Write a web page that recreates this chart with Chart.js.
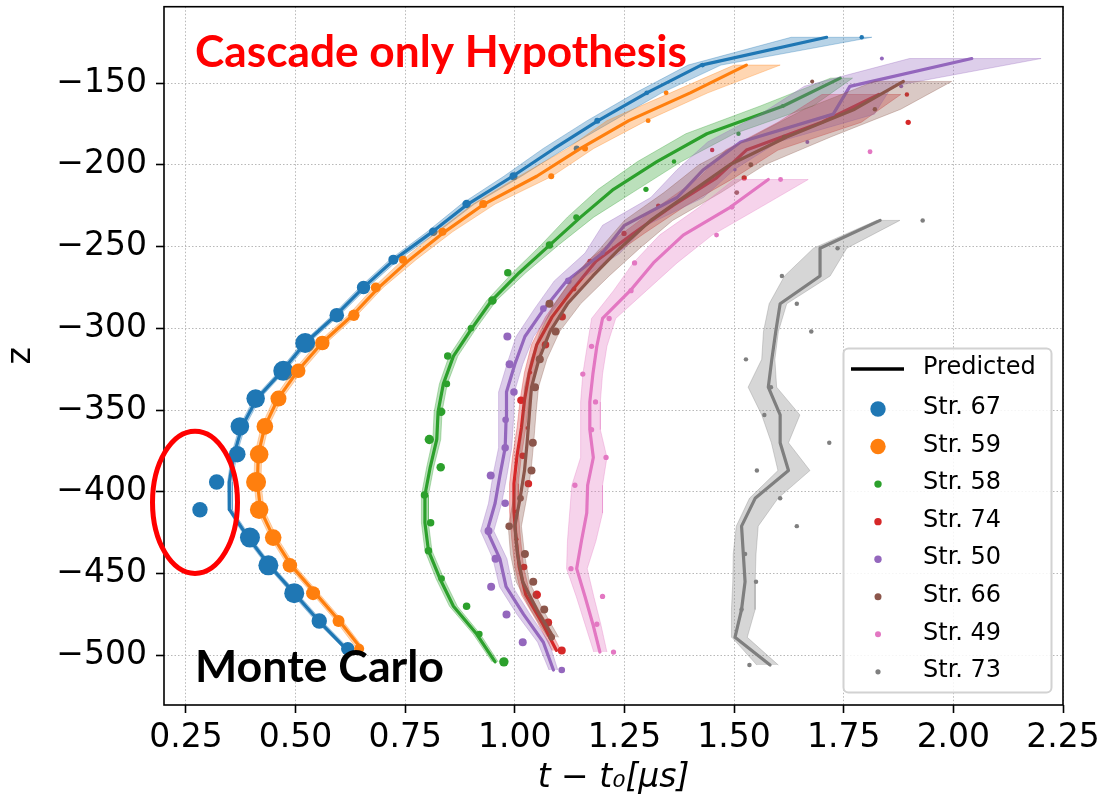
<!DOCTYPE html>
<html><head><meta charset="utf-8">
<script src="https://cdn.jsdelivr.net/npm/chart.js@4"></script>
<style>html,body{margin:0;padding:0;background:#fff;}canvas{display:block;}</style>
</head><body>
<canvas id="c" width="1104" height="804"></canvas>
<script>
// ---------------- data ----------------
// Str. 67
const z67 = [-496,-479,-462,-445,-428,-411,-394,-377,-360,-343,-326,-309,-292,-275,-258,-241,-224,-207,-190,-173,-156,-139,-122];
const obs67 = [0.619,0.554,0.497,0.438,0.396,0.282,0.320,0.367,0.373,0.409,0.472,0.522,0.594,0.655,0.723,0.814,0.890,0.997,1.141,1.188,1.301,1.428,1.791];
const q67 = [45,59,100,100,100,59,59,69,86,86,100,100,53,45,25,18,18,16,9,9,6,6,5];
const pred67 = [0.615,0.553,0.497,0.440,0.392,0.350,0.349,0.360,0.378,0.412,0.470,0.522,0.592,0.655,0.725,0.812,0.893,0.995,1.090,1.190,1.301,1.425,1.711];
const lo67 = [0.610,0.546,0.490,0.434,0.386,0.346,0.345,0.354,0.372,0.405,0.463,0.515,0.584,0.646,0.715,0.800,0.878,0.975,1.065,1.165,1.275,1.395,1.630];
const hi67 = [0.622,0.560,0.504,0.446,0.398,0.356,0.356,0.366,0.385,0.419,0.477,0.530,0.600,0.664,0.735,0.825,0.908,1.015,1.115,1.225,1.335,1.470,1.814];
// Str. 59
const z59 = [-496,-479,-462,-445,-428,-411,-394,-377,-360,-343,-326,-309,-292,-275,-258,-241,-224,-207,-190,-173,-156,-139];
const obs59 = [0.645,0.598,0.540,0.487,0.449,0.417,0.410,0.417,0.430,0.461,0.506,0.561,0.633,0.683,0.745,0.835,0.928,1.083,1.160,1.304,1.345,null];
const q59 = [25,36,49,53,69,86,100,86,69,64,53,53,32,25,16,16,16,9,9,6,6,0];
const pred59 = [0.650,0.600,0.545,0.490,0.450,0.420,0.413,0.415,0.430,0.460,0.505,0.560,0.630,0.690,0.760,0.840,0.930,1.050,1.150,1.260,1.400,1.528];
const lo59 = [0.640,0.592,0.537,0.482,0.442,0.412,0.405,0.407,0.422,0.451,0.495,0.550,0.620,0.678,0.745,0.822,0.905,1.010,1.120,1.210,1.355,1.500];
const hi59 = [0.656,0.608,0.553,0.498,0.458,0.428,0.421,0.423,0.438,0.469,0.515,0.570,0.640,0.700,0.775,0.858,0.955,1.085,1.180,1.300,1.440,1.605];
// Str. 58
const z58 = [-504,-487,-470,-453,-436,-419,-402,-385,-368,-351,-334,-317,-300,-283,-266,-249,-232,-215,-198,-181,-164,-147];
const obs58 = [0.975,0.919,0.890,0.833,0.803,0.808,0.794,0.831,0.805,0.832,0.845,0.847,0.900,0.949,0.984,1.079,1.140,1.299,1.363,1.510,1.611,null];
const q58 = [22,11,14,11,14,14,14,18,22,18,11,14,11,18,14,14,9,7,5,5,4,0];
const pred58 = [0.955,0.913,0.860,0.829,0.803,0.795,0.795,0.807,0.822,0.825,0.837,0.860,0.902,0.947,1.010,1.080,1.150,1.225,1.324,1.438,1.612,1.742];
const lo58 = [0.948,0.905,0.851,0.820,0.795,0.787,0.787,0.799,0.813,0.816,0.828,0.850,0.892,0.936,0.995,1.060,1.120,1.190,1.280,1.390,1.560,1.720];
const hi58 = [0.962,0.921,0.869,0.838,0.811,0.803,0.803,0.815,0.831,0.834,0.846,0.870,0.912,0.958,1.025,1.100,1.180,1.280,1.380,1.500,1.680,1.770];
// Str. 74
const z74 = [-497,-480,-463,-446,-429,-412,-395,-378,-361,-344,-327,-310,-293,-276,-259,-242,-225,-208,-191,-174,-157];
const obs74 = [1.107,1.076,1.050,1.021,1.004,1.004,1.031,1.018,1.029,1.014,1.035,1.070,1.108,1.135,1.171,1.249,1.327,1.523,1.450,1.897,1.894];
const q74 = [16,16,18,11,4,4,14,11,4,14,4,14,14,6,6,7,5,7,5,7,5];
const pred74 = [1.095,1.062,1.025,1.010,1.003,0.998,0.998,1.005,1.015,1.022,1.033,1.050,1.085,1.133,1.185,1.270,1.360,1.460,1.528,1.700,1.830];
const lo74 = [1.085,1.052,1.015,1.000,0.993,0.988,0.988,0.995,1.005,1.012,1.022,1.038,1.070,1.115,1.165,1.245,1.330,1.420,1.480,1.600,1.700];
const hi74 = [1.105,1.072,1.035,1.020,1.013,1.008,1.008,1.015,1.025,1.032,1.044,1.062,1.100,1.150,1.205,1.295,1.390,1.500,1.600,1.790,1.880];
// Str. 50
const z50 = [-509,-492,-475,-458,-441,-424,-407,-390,-373,-356,-339,-322,-305,-288,-271,-254,-237,-220,-203,-186,-169,-152,-135];
const obs50 = [1.107,1.018,0.981,0.946,0.956,0.940,0.978,0.945,0.978,0.979,0.998,0.988,0.983,1.065,1.122,1.200,null,null,1.502,1.667,null,1.881,1.837];
const q50 = [11,16,16,16,16,16,14,16,14,11,14,16,16,11,11,5,0,0,3,4,0,4,4];
const pred50 = [1.088,1.065,1.020,0.980,0.966,0.937,0.955,0.966,0.978,0.980,0.981,1.000,1.023,1.067,1.118,1.200,1.250,1.370,1.430,1.515,1.726,1.764,2.042];
const lo50 = [1.078,1.052,1.005,0.965,0.950,0.922,0.940,0.950,0.963,0.963,0.963,0.982,1.003,1.045,1.090,1.160,1.200,1.310,1.370,1.440,1.560,1.660,1.900];
const hi50 = [1.098,1.078,1.035,0.995,0.982,0.952,0.970,0.982,0.993,0.997,0.999,1.018,1.043,1.090,1.145,1.240,1.300,1.430,1.500,1.600,1.820,1.860,2.200];
// Str. 66
const z66 = [-489,-472,-455,-438,-421,-404,-387,-370,-353,-336,-319,-302,-285,-268,-251,-234,-217,-200,-183,-166,-149];
const obs66 = [1.084,1.067,1.042,1.023,0.987,1.013,1.038,1.041,null,1.046,1.057,1.093,1.079,null,null,null,1.506,1.538,1.614,1.821,1.678];
const q66 = [11,16,16,16,14,11,16,16,0,16,16,16,16,0,0,0,6,6,5,5,4];
const pred66 = [1.088,1.050,1.018,1.006,1.000,1.012,1.022,1.028,1.033,1.038,1.055,1.080,1.120,1.178,1.240,1.310,1.400,1.490,1.620,1.775,1.886];
const lo66 = [1.075,1.036,1.003,0.990,0.985,0.997,1.007,1.013,1.018,1.022,1.037,1.058,1.090,1.135,1.195,1.250,1.340,1.420,1.540,1.660,1.820];
const hi66 = [1.100,1.064,1.033,1.022,1.015,1.027,1.037,1.043,1.048,1.054,1.073,1.102,1.150,1.215,1.285,1.360,1.470,1.570,1.720,1.880,1.996];
// Str. 49
const z49 = [-498,-481,-464,-447,-430,-413,-396,-379,-362,-345,-328,-311,-294,-277,-260,-243,-226,-209,-192];
const obs49 = [1.225,1.187,1.200,1.128,null,null,1.137,1.208,1.175,1.184,1.155,1.175,1.215,1.265,1.273,1.460,1.495,1.606,1.810];
const q49 = [7,7,7,7,0,0,7,7,7,7,7,7,7,7,7,6,6,6,6];
const pred49 = [1.194,1.178,1.160,1.141,1.152,1.164,1.166,1.179,1.171,1.171,1.178,1.187,1.200,1.263,1.316,1.384,1.491,1.578,null];
const lo49 = [1.180,1.160,1.140,1.118,1.120,1.125,1.130,1.150,1.150,1.150,1.155,1.165,1.175,1.225,1.270,1.330,1.420,1.500,null];
const hi49 = [1.210,1.196,1.180,1.165,1.185,1.200,1.200,1.210,1.195,1.195,1.200,1.210,1.230,1.300,1.370,1.450,1.560,1.669,null];
// Str. 73
const z73 = [-506,-489,-472,-455,-438,-421,-404,-387,-370,-353,-336,-319,-302,-285,-268,-251,-234];
const obs73 = [1.535,null,1.517,1.550,1.525,1.643,1.605,1.552,1.717,1.569,1.584,1.527,1.676,1.643,1.609,1.736,1.930];
const q73 = [5,0,5,5,5,5,5,5,5,5,5,5,5,5,5,5,5];
const pred73 = [1.582,1.502,1.517,1.525,1.521,1.517,1.548,1.624,1.605,1.605,1.578,1.586,1.595,1.605,1.696,1.696,1.833];
const lo73 = [1.552,1.495,1.494,1.497,1.498,1.505,1.535,1.600,1.585,1.563,1.532,1.563,1.567,1.580,1.615,1.681,1.825];
const hi73 = [1.601,1.530,1.548,1.548,1.550,1.555,1.600,1.673,1.624,1.650,1.597,1.593,1.601,1.620,1.719,1.757,1.878];

// axis tick labels
const xTickLabels = ['0.25','0.50','0.75','1.00','1.25','1.50','1.75','2.00','2.25'];
const yTickLabels = ['\u2212500','\u2212450','\u2212400','\u2212350','\u2212300','\u2212250','\u2212200','\u2212150'];

// ---------------- styles / config ----------------
const strings = [
  {label:'Str. 67', color:'#1f77b4', legendR:7.7, z:z67, obs:obs67, q:q67, pred:pred67, lo:lo67, hi:hi67},
  {label:'Str. 59', color:'#ff7f0e', legendR:7.7, z:z59, obs:obs59, q:q59, pred:pred59, lo:lo59, hi:hi59},
  {label:'Str. 58', color:'#2ca02c', legendR:3.7, z:z58, obs:obs58, q:q58, pred:pred58, lo:lo58, hi:hi58},
  {label:'Str. 74', color:'#d62728', legendR:3.7, z:z74, obs:obs74, q:q74, pred:pred74, lo:lo74, hi:hi74},
  {label:'Str. 50', color:'#9467bd', legendR:3.7, z:z50, obs:obs50, q:q50, pred:pred50, lo:lo50, hi:hi50},
  {label:'Str. 66', color:'#8c564b', legendR:3.5, z:z66, obs:obs66, q:q66, pred:pred66, lo:lo66, hi:hi66},
  {label:'Str. 49', color:'#e377c2', legendR:3.0, z:z49, obs:obs49, q:q49, pred:pred49, lo:lo49, hi:hi49},
  {label:'Str. 73', color:'#7f7f7f', legendR:2.6, z:z73, obs:obs73, q:q73, pred:pred73, lo:lo73, hi:hi73}
];
const FONT = '"DejaVu Sans", sans-serif';

function rgba(hex, a) {
  const n = parseInt(hex.slice(1), 16);
  return `rgba(${(n>>16)&255},${(n>>8)&255},${n&255},${a})`;
}

const datasets = [];
strings.forEach((s, i) => {
  const base = 1000 - i * 3;
  const band = [];
  s.z.forEach((z, k) => { if (s.lo[k] != null) band.push({x: s.lo[k], y: z}); });
  for (let k = s.z.length - 1; k >= 0; k--) if (s.hi[k] != null) band.push({x: s.hi[k], y: s.z[k]});
  datasets.push({data: band, fill: 'shape', backgroundColor: rgba(s.color, 0.32), borderColor: rgba(s.color, 0.32),
    borderWidth: 1, pointRadius: 0, tension: 0, order: base});
  const line = [];
  s.z.forEach((z, k) => { if (s.pred[k] != null) line.push({x: s.pred[k], y: z}); });
  datasets.push({data: line, fill: false, borderColor: s.color, borderWidth: 3.2, pointRadius: 0, tension: 0,
    borderJoinStyle: 'round', borderCapStyle: 'round', order: base - 1});
  const pts = [], rad = [];
  s.z.forEach((z, k) => { if (s.obs[k] != null) { pts.push({x: s.obs[k], y: z}); rad.push(Math.sqrt(s.q[k])); } });
  datasets.push({data: pts, showLine: false, fill: false, pointRadius: rad, pointBackgroundColor: s.color,
    pointBorderWidth: 0, pointBorderColor: s.color, order: base - 2});
});

// annotations (data coordinates)
const notes = [
  {text: 'Cascade only Hypothesis', x: 0.2707, y: -140.4, width: 1.122, color: '#ff0000'},
  {text: 'Monte Carlo', x: 0.2707, y: -516.6, width: 0.568, color: '#000000'}
];
const ring = {cx: 0.2707, cy: -406.4, rx: 0.0969, ry: 43.5};

const overlay = {
  id: 'overlay',
  afterDatasetsDraw(chart) {
    const ctx = chart.ctx, a = chart.chartArea, xs = chart.scales.x, ys = chart.scales.y;
    ctx.save();
    // frame
    ctx.strokeStyle = '#000'; ctx.lineWidth = 1.6;
    ctx.strokeRect(a.left, a.top, a.right - a.left, a.bottom - a.top);
    // texts
    notes.forEach(n => {
      ctx.font = 'bold 100px Lato, "Open Sans", sans-serif';
      const w = ctx.measureText(n.text).width;
      const target = xs.getPixelForValue(n.x + n.width) - xs.getPixelForValue(n.x);
      const size = 100 * target / w;
      ctx.font = `bold ${size}px Lato, "Open Sans", sans-serif`;
      ctx.fillStyle = n.color; ctx.textBaseline = 'alphabetic'; ctx.textAlign = 'left';
      ctx.fillText(n.text, xs.getPixelForValue(n.x), ys.getPixelForValue(n.y));
    });
    // ellipse
    const cx = xs.getPixelForValue(ring.cx), cy = ys.getPixelForValue(ring.cy);
    const rx = xs.getPixelForValue(ring.cx + ring.rx) - cx;
    const ry = cy - ys.getPixelForValue(ring.cy + ring.ry);
    ctx.beginPath(); ctx.ellipse(cx, cy, rx, ry, 0, 0, Math.PI * 2);
    ctx.strokeStyle = '#ff0000'; ctx.lineWidth = 5; ctx.stroke();
    // legend
    const bx = 843.5, by = 348.5, bw = 208, bh = 344;
    ctx.beginPath();
    if (ctx.roundRect) ctx.roundRect(bx, by, bw, bh, 5); else ctx.rect(bx, by, bw, bh);
    ctx.fillStyle = 'rgba(255,255,255,0.85)'; ctx.fill();
    ctx.lineWidth = 2; ctx.strokeStyle = '#d2d2d2'; ctx.stroke();
    ctx.font = '24px ' + FONT; ctx.textBaseline = 'middle'; ctx.textAlign = 'left';
    ctx.strokeStyle = '#000'; ctx.lineWidth = 3.4; ctx.lineCap = 'butt';
    ctx.beginPath(); ctx.moveTo(851, 369); ctx.lineTo(904, 369); ctx.stroke();
    ctx.fillStyle = '#000'; ctx.fillText('Predicted', 923, 368);
    strings.forEach((s, i) => {
      const y = 409 + i * 37.55;
      ctx.beginPath(); ctx.arc(878, y, s.legendR, 0, Math.PI * 2);
      ctx.fillStyle = s.color; ctx.fill();
      ctx.fillStyle = '#000'; ctx.fillText(s.label, 923, y - 1);
    });
    ctx.restore();
  }
};

new Chart(document.getElementById('c'), {
  type: 'line',
  data: {datasets},
  plugins: [overlay],
  options: {
    responsive: false, animation: false, devicePixelRatio: 1, events: [],
    layout: {padding: {top: 6, right: 41, left: 0, bottom: 0}},
    plugins: {legend: {display: false}, tooltip: {enabled: false}},
    scales: {
      x: {
        type: 'linear', min: 0.2, max: 2.25,
        afterFit: s => { s.height = 99; s.paddingLeft = 0; s.paddingRight = 0; },
        ticks: {stepSize: 0.25, includeBounds: false, autoSkip: false, maxRotation: 0, padding: 6,
          color: '#000', font: {family: FONT, size: 33},
          callback: (v) => xTickLabels[Math.round((v - 0.25) / 0.25)] ?? ''},
        grid: {color: '#b8b8b8', lineWidth: 1, tickLength: 8, tickColor: '#000', tickWidth: 1.6, tickBorderDash: []},
        border: {display: false, dash: [1.5, 2]},
        title: {display: true, text: 't \u2212 t\u2080[\u03bcs]', color: '#000',
          font: {family: FONT, size: 33, style: 'italic'}, padding: {top: 0, bottom: 6}}
      },
      y: {
        type: 'linear', min: -530.4, max: -103.3,
        afterFit: s => { s.width = 164; s.paddingTop = 0; s.paddingBottom = 0; },
        ticks: {stepSize: 50, includeBounds: false, autoSkip: false, padding: 9,
          color: '#000', font: {family: FONT, size: 33},
          callback: (v) => yTickLabels[Math.round((v + 500) / 50)] ?? ''},
        grid: {color: '#b8b8b8', lineWidth: 1, tickLength: 8, tickColor: '#000', tickWidth: 1.6, tickBorderDash: []},
        border: {display: false, dash: [1.5, 2]},
        title: {display: true, text: 'z', color: '#000',
          font: {family: FONT, size: 33}, padding: {top: 2, bottom: 0}}
      }
    }
  }
});
</script>
</body></html>
